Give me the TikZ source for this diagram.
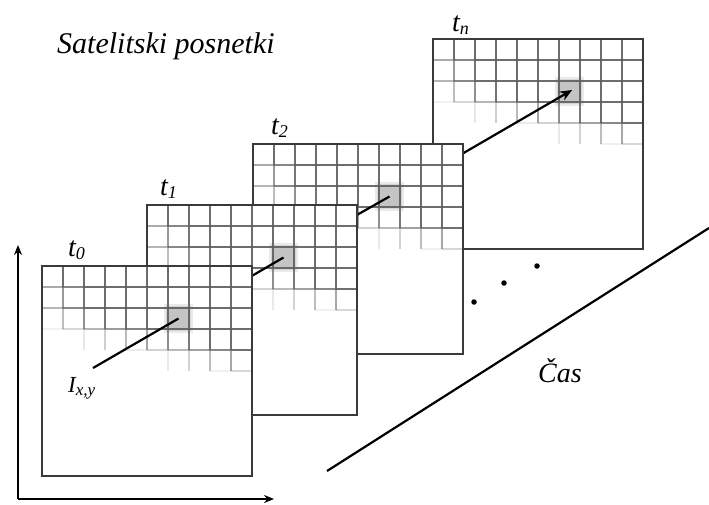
\documentclass[tikz,border=0pt]{standalone}
\usepackage{fontspec}
\setmainfont{Liberation Serif}
\usetikzlibrary{arrows.meta}
\definecolor{framec}{HTML}{3A3A3A}
\definecolor{gridc}{HTML}{5E5E5E}
\definecolor{cellc}{HTML}{C4C4C4}
\tikzset{
  fr/.style={minimum width=210pt,minimum height=210pt,inner sep=0pt,outer sep=0pt},
  framebox/.style={draw=framec,line width=1.5pt},
  gridline/.style={draw=gridc,line width=1.1pt},
  link/.style={draw=black,line width=2.2pt},
  tip/.style={-{Stealth[length=12pt,width=10pt]}},
  axtip/.style={-{Stealth[length=10pt,width=8pt]}},
  lbl/.style={inner sep=0pt,anchor=base west},
  big/.style={font=\fontsize{28}{30}\selectfont\itshape},
  title/.style={font=\fontsize{30}{32}\selectfont\itshape},
  small/.style={font=\fontsize{23}{24}\selectfont\itshape},
  dotnode/.style={circle,fill=black,inner sep=0pt,minimum size=5.5pt},
}
\newcommand{\sbs}[2]{{\fontsize{#1}{#1}\selectfont\raisebox{-3pt}{#2}}}
\newcommand{\satframe}[1]{%
  \fill[white] (#1.north west) rectangle (#1.south east);
  \fill[cellc!35] ([shift={(122,38)}]#1.north west) rectangle ++(29,29);
  \fill[cellc!70] ([shift={(124,40)}]#1.north west) rectangle ++(25,25);
  \fill[cellc] ([shift={(126,42)}]#1.north west) rectangle ++(21,21);
  \foreach \i in {1,...,9}{\foreach \j in {0,...,9}{%
    \pgfmathsetmacro{\op}{0.9*max(0,min(1,(3.3+0.24*\i-\j-0.5)/1.6))*ifthenelse(\j==0,1,min(1,0.45+0.25*\i))}%
    \ifdim\op pt>0.03pt
      \draw[gridline,draw opacity=\op] ([shift={(\i*21,\j*21)}]#1.north west) -- ++(0,21);
    \fi
  }}
  \foreach \r in {1,...,9}{\foreach \i in {0,...,9}{%
    \pgfmathsetmacro{\op}{0.9*max(0,min(1,(3.1+0.24*(\i+0.5)-\r)/1.4))*min(1,0.45+0.25*(\i+0.5))}%
    \ifdim\op pt>0.03pt
      \draw[gridline,draw opacity=\op] ([shift={(\i*21,\r*21)}]#1.north west) -- ++(21,0);
    \fi
  }}
  \draw[framebox] (#1.north west) rectangle (#1.south east);
}
\begin{document}
\begin{tikzpicture}[x=1pt,y=-1pt]
\useasboundingbox (0,0) rectangle (709,504);
% frame placeholders
\path (147,371) node[fr] (f0) {}
      (252,310) node[fr] (f1) {}
      (358,249) node[fr] (f2) {}
      (538,144) node[fr] (fn) {};
% pixel centres
\coordinate (c0) at ([shift={(136.5,52.5)}]f0.north west);
\coordinate (c1) at ([shift={(136.5,52.5)}]f1.north west);
\coordinate (c2) at ([shift={(136.5,52.5)}]f2.north west);
\coordinate (cn) at ([shift={(136.5,52.5)}]fn.north west);
\coordinate (i0) at (93,368);
\coordinate (e0) at (intersection of c0--cn and f0.north east--f0.south east);
\coordinate (e1) at (intersection of c0--cn and f1.north east--f1.south east);
\coordinate (e2) at (intersection of c0--cn and f2.north east--f2.south east);
% frames back to front with links
\satframe{fn}
\draw[link,tip,shorten >=-3pt] (e2) -- (cn);
\satframe{f2}
\draw[link] (e1) -- (c2);
\satframe{f1}
\draw[link] (e0) -- (c1);
\satframe{f0}
\draw[link] (i0) -- (c0);
% labels
\node[lbl,title] (ttl) at (57,53) {Satelitski posnetki};
\node[lbl,big] (l0) at (68,256) {t\sbs{18}{0}};
\node[lbl,big] (l1) at (160,195) {t\sbs{18}{1}};
\node[lbl,big] (l2) at (271,134) {t\sbs{18}{2}};
\node[lbl,big] (ln) at (452,31) {t\sbs{18}{n}};
\node[lbl,small] (ixy) at (68,392) {I\sbs{17}{x,y}};
\node[lbl,big] (cas) at (538,382) {Čas};
% dots
\node[dotnode] (d1) at (474,302) {};
\node[dotnode] (d2) at (504,283) {};
\node[dotnode] (d3) at (537,266) {};
% axes
\coordinate (o) at (18,499);
\coordinate (ytop) at (18,245);
\coordinate (xend) at (274,499);
\draw[link,line width=1.8pt,axtip] (o) -- (ytop);
\draw[link,line width=1.8pt,axtip] (o) -- (xend);
% time line
\coordinate (ts) at (327,471);
\coordinate (te) at (709,228);
\draw[link] (ts) -- (te);
\end{tikzpicture}
\end{document}
